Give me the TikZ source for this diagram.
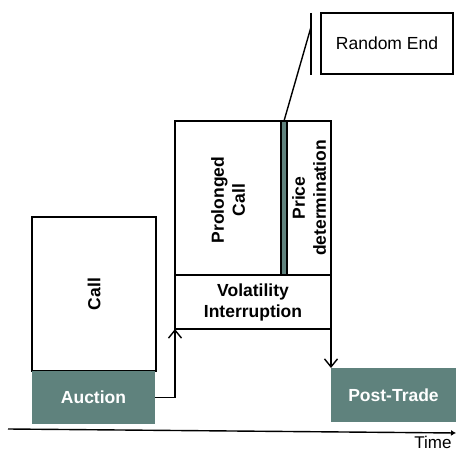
\documentclass[tikz,border=0pt]{standalone}
\usepackage{fontspec}
\setmainfont{Liberation Sans}
\usetikzlibrary{arrows.meta}
\definecolor{teal}{RGB}{95,130,125}
\begin{document}
\begin{tikzpicture}[x=1pt,y=-1pt,
  box/.style={draw=black,line width=1.4pt,inner sep=0pt,outer sep=0pt,anchor=north west},
  tealbox/.style={fill=teal,inner sep=0pt,outer sep=0pt,anchor=north west},
  lbl/.style={font=\fontsize{17.5}{21}\selectfont\bfseries,align=center},
  conn/.style={line width=1.4pt,-{Straight Barb[length=8pt,width=13pt,line width=1.4pt]}}]
\useasboundingbox (0,0) rectangle (456,452);
% call / auction
\node[box,minimum width=124pt,minimum height=154pt] (call) at (32,217) {};
\node[lbl,rotate=90] (calltxt) at (call.center) {Call};
\node[tealbox,minimum width=123pt,minimum height=53pt] (auction) at (32,371) {};
\node[lbl,text=white] (auctxt) at (auction.center) {Auction};
% volatility interruption
\node[box,minimum width=156pt,minimum height=54pt] (vol) at (175,275) {};
\node[lbl] (voltxt) at (vol.center) {Volatility\\Interruption};
\node[box,minimum width=106pt,minimum height=154pt] (pcall) at (175,121) {};
\node[lbl,rotate=90] (pcalltxt) at (228,200) {Prolonged\\Call};
\node[box,fill=teal,minimum width=6pt,minimum height=154pt] (strip) at (281,121) {};
\node[box,minimum width=44pt,minimum height=154pt] (price) at (287,121) {};
\node[lbl,rotate=90] (pricetxt) at (price.center) {Price\\determination};
% post-trade
\node[tealbox,minimum width=125pt,minimum height=54pt] (post) at (331,368) {};
\node[lbl,text=white] (posttxt) at (post.center) {Post-Trade};
% random end
\node[box,minimum width=132pt,minimum height=61pt] (rend) at (321,13) {};
\node[font=\fontsize{17.5}{21}\selectfont] (rendtxt) at (rend.center) {Random End};
\coordinate (bartop) at (311,13);
\coordinate (barbot) at (311,75);
\coordinate (barjoin) at (311,27);
\draw[line width=1.4pt] (bartop) -- (barbot);
\draw[line width=1.4pt] (barjoin) -- (strip.north);
% connectors
\draw[conn] (auction.east) -| (vol.south west);
\draw[conn] (vol.south east) -- (post.north west);
% time axis
\coordinate (t0) at (8,429);
\coordinate (t1) at (456,433);
\draw[line width=1.4pt,-{Latex[length=5pt,width=6pt]}] (t0) -- (t1);
\node[font=\fontsize{17}{20}\selectfont,anchor=base,inner sep=0pt] (time) at (433,448) {Time};
\end{tikzpicture}
\end{document}
